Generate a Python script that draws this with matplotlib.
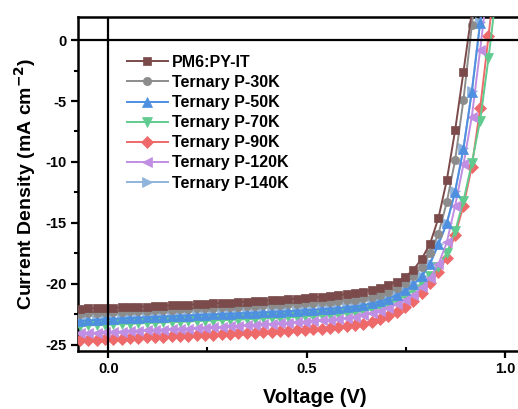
import numpy as np
import matplotlib
matplotlib.use("Agg")
import matplotlib.pyplot as plt
from matplotlib.ticker import MultipleLocator, FuncFormatter

plt.rcParams['font.family'] = ['Liberation Sans', 'DejaVu Sans']
plt.rcParams['font.weight'] = 'bold'

# Voltage sweep (V)
voltage = np.round(-0.071 + 0.021 * np.arange(51), 3)

labels = ["PM6:PY-IT", "Ternary P-30K", "Ternary P-50K", "Ternary P-70K",
          "Ternary P-90K", "Ternary P-120K", "Ternary P-140K"]

# Current density (mA cm^-2) for each device
j_pm6 = [-22.05, -22.03, -22.01, -21.99, -21.97, -21.95, -21.92, -21.90, -21.87, -21.84,
         -21.81, -21.78, -21.75, -21.72, -21.69, -21.66, -21.62, -21.59, -21.55, -21.52,
         -21.48, -21.44, -21.40, -21.36, -21.32, -21.28, -21.23, -21.18, -21.13, -21.07,
         -21.00, -20.93, -20.85, -20.76, -20.64, -20.50, -20.32, -20.10, -19.82, -19.45,
         -18.85, -17.95, -16.70, -14.60, -11.50, -7.40, -2.60, 2.30]
j_30k = [-22.45, -22.42, -22.39, -22.36, -22.33, -22.30, -22.27, -22.24, -22.21, -22.18,
         -22.15, -22.12, -22.09, -22.06, -22.03, -22.00, -21.97, -21.94, -21.91, -21.88,
         -21.85, -21.82, -21.78, -21.75, -21.72, -21.68, -21.65, -21.61, -21.57, -21.53,
         -21.48, -21.43, -21.37, -21.30, -21.20, -21.07, -20.92, -20.72, -20.35, -19.95,
         -19.40, -18.65, -17.50, -15.90, -13.30, -9.85, -4.90, 1.20, 7.00]
j_50k = [-23.05, -23.01, -22.97, -22.93, -22.89, -22.85, -22.82, -22.79, -22.76, -22.73,
         -22.70, -22.67, -22.64, -22.61, -22.58, -22.55, -22.52, -22.49, -22.47, -22.44,
         -22.41, -22.38, -22.35, -22.32, -22.29, -22.26, -22.22, -22.18, -22.14, -22.10,
         -22.05, -22.00, -21.94, -21.86, -21.76, -21.62, -21.44, -21.22, -20.92, -20.55,
         -20.05, -19.40, -18.35, -16.75, -15.05, -12.45, -8.90, -4.25, 1.40, 7.00]
j_70k = [-23.45, -23.42, -23.39, -23.37, -23.34, -23.31, -23.29, -23.26, -23.23, -23.21,
         -23.18, -23.15, -23.13, -23.10, -23.07, -23.05, -23.02, -22.99, -22.96, -22.94,
         -22.91, -22.88, -22.85, -22.82, -22.79, -22.75, -22.72, -22.68, -22.64, -22.60,
         -22.55, -22.49, -22.42, -22.34, -22.23, -22.09, -21.91, -21.68, -21.38, -21.00,
         -20.55, -20.00, -19.40, -18.60, -17.50, -15.70, -13.20, -10.10, -6.60, -1.50, 4.20]
j_90k = [-24.65, -24.62, -24.59, -24.56, -24.53, -24.50, -24.47, -24.44, -24.41, -24.38,
         -24.35, -24.32, -24.29, -24.26, -24.23, -24.20, -24.17, -24.14, -24.11, -24.08,
         -24.05, -24.02, -23.99, -23.96, -23.92, -23.88, -23.84, -23.80, -23.75, -23.70,
         -23.64, -23.57, -23.49, -23.40, -23.28, -23.13, -22.93, -22.68, -22.35, -21.93,
         -21.40, -20.75, -19.95, -19.00, -17.85, -16.00, -13.60, -10.40, -5.60, 0.30, 6.30]
j_120k = [-24.08, -24.05, -24.02, -23.99, -23.96, -23.93, -23.90, -23.87, -23.84, -23.81,
          -23.78, -23.75, -23.72, -23.69, -23.66, -23.62, -23.58, -23.54, -23.50, -23.46,
          -23.42, -23.38, -23.34, -23.30, -23.26, -23.22, -23.17, -23.12, -23.07, -23.01,
          -22.95, -22.88, -22.80, -22.70, -22.58, -22.42, -22.22, -21.98, -21.70, -21.35,
          -20.90, -20.30, -19.50, -18.40, -16.60, -13.60, -10.20, -6.30, -0.80, 5.00]
j_140k = [-23.04, -23.00, -22.96, -22.92, -22.88, -22.84, -22.81, -22.78, -22.75, -22.72,
          -22.69, -22.66, -22.63, -22.60, -22.57, -22.54, -22.51, -22.48, -22.46, -22.43,
          -22.40, -22.37, -22.34, -22.31, -22.28, -22.25, -22.21, -22.17, -22.13, -22.09,
          -22.04, -21.99, -21.93, -21.85, -21.75, -21.61, -21.43, -21.21, -20.91, -20.54,
          -20.04, -19.38, -18.33, -16.72, -15.02, -12.40, -8.85, -4.20, 1.45, 7.00]

currents = [j_pm6, j_30k, j_50k, j_70k, j_90k, j_120k, j_140k]
colors = ["#7B4B4B", "#8C8C8C", "#4F8FE0", "#5FCB8E", "#EE6A6A", "#C08EE2", "#8FB4DC"]
markers = ["s", "o", "^", "v", "D", "<", ">"]
zorders = [3.7, 3.6, 3.5, 3.3, 3.2, 3.4, 3.0]
msizes = [5.8, 6.0, 6.6, 6.6, 5.8, 6.6, 6.6]

# Axes run past the right edge of the canvas, so only the left part of the x range shows
ax_left, ax_width = 0.150, 0.9401
fig = plt.figure(figsize=(5.18, 4.09), dpi=100)
ax = fig.add_axes([ax_left, 0.1425, ax_width, 0.816])

for lab, j, c, m, z, ms in zip(labels, currents, colors, markers, zorders, msizes):
    ax.plot(voltage[:len(j)], j, color=c, marker=m, markersize=ms, lw=1.4,
            markeredgewidth=0.5, markeredgecolor=c, label=lab, zorder=z)

ax.axhline(0, color="black", lw=1.6, zorder=5)
ax.axvline(0, color="black", lw=1.6, zorder=5)

ax.set_xlim(-0.077, 1.15)
ax.set_ylim(-25.5, 1.9)

ax.xaxis.set_major_locator(MultipleLocator(0.5))
ax.xaxis.set_minor_locator(MultipleLocator(0.25))
ax.yaxis.set_major_locator(MultipleLocator(5))
ax.yaxis.set_minor_locator(MultipleLocator(2.5))

for s in ax.spines.values():
    s.set_linewidth(1.8)
ax.spines["right"].set_visible(False)

ax.tick_params(axis="both", which="major", direction="out", length=5, width=1.6,
               labelsize=10.5, pad=3)
ax.tick_params(axis="x", which="minor", direction="in", length=3, width=1.5)
ax.tick_params(axis="y", which="minor", direction="out", length=3, width=1.5)
ax.tick_params(axis="y", which="both", right=False)

ax.xaxis.set_major_formatter(FuncFormatter(lambda v, p: f"{v:.1f}"))
ax.yaxis.set_major_formatter(FuncFormatter(lambda v, p: f"{v:.0f}"))
for t in ax.get_xticklabels() + ax.get_yticklabels():
    t.set_fontweight("bold")

# Centre the x label within the visible part of the figure
ax.set_xlabel("Voltage (V)", fontsize=14.5, fontweight="bold")
ax.xaxis.set_label_coords((0.608 - ax_left) / ax_width, -0.112)
ax.set_ylabel("Current Density (mA cm$^{\\mathbf{-2}}$)", fontsize=14,
              fontweight="bold", labelpad=5)

leg = ax.legend(loc="upper left", bbox_to_anchor=(0.081, 0.915), frameon=False,
                prop={"weight": "bold", "size": 11.5}, handlelength=2.6,
                handletextpad=0.25, labelspacing=0.32, borderaxespad=0.2)

fig.savefig("out.png", dpi=100)
